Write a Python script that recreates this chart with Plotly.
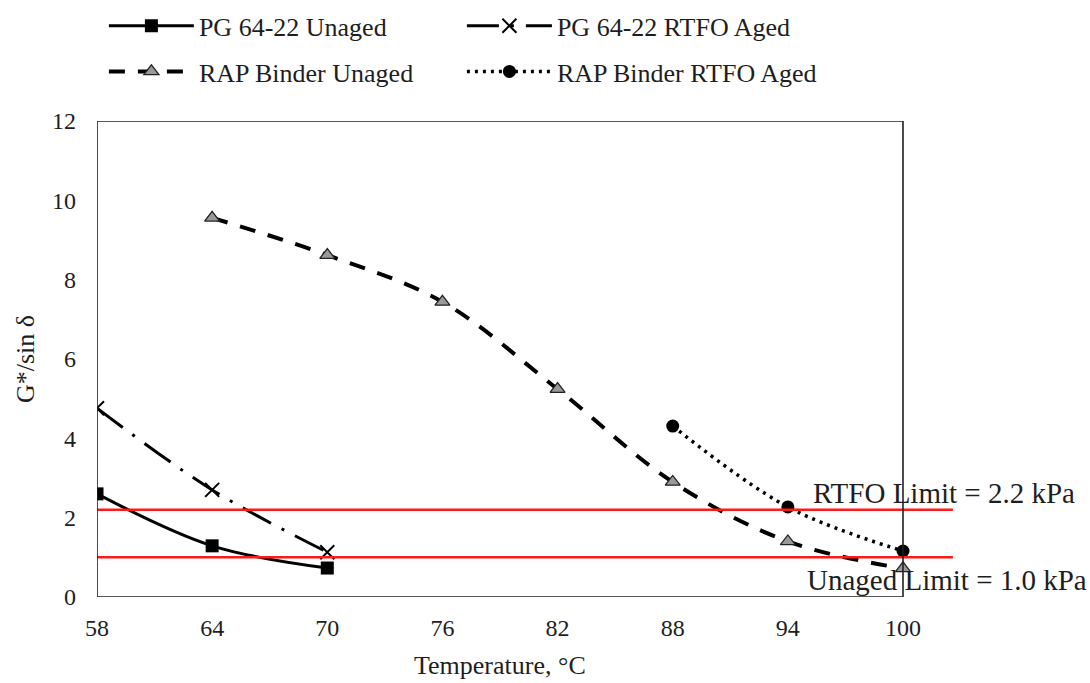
import plotly.graph_objects as go

# Temperature grid (°C)
temps_pg = [58, 64, 70]
temps_rap = [64, 70, 76, 82, 88, 94, 100]
temps_rap_rtfo = [88, 94, 100]

# G*/sin δ values (kPa)
pg_unaged = [2.60, 1.29, 0.73]
pg_rtfo = [4.76, 2.70, 1.13]
rap_unaged = [9.56, 8.62, 7.44, 5.24, 2.90, 1.40, 0.72]
rap_rtfo = [4.31, 2.27, 1.16]

# Specification limits (kPa)
rtfo_limit = 2.2
unaged_limit = 1.0

x_ticks = [58, 64, 70, 76, 82, 88, 94, 100]
y_ticks = [0, 2, 4, 6, 8, 10, 12]

FONT = "Liberation Serif"
TXT = "#1e1e1e"

fig = go.Figure()

fig.add_trace(go.Scatter(
    x=temps_pg, y=pg_unaged, name="PG 64-22 Unaged", mode="lines+markers",
    line=dict(color="black", width=3, shape="spline"),
    marker=dict(symbol="square", size=13, color="black"),
    legend="legend",
))
fig.add_trace(go.Scatter(
    x=temps_pg, y=pg_rtfo, name="PG 64-22 RTFO Aged", mode="lines+markers",
    line=dict(color="black", width=3, dash="32px,12px,3px,12px", shape="spline"),
    marker=dict(symbol="x-thin-open", size=14, color="black",
                line=dict(color="black", width=2)),
    legend="legend",
))
fig.add_trace(go.Scatter(
    x=temps_rap, y=rap_unaged, name="RAP Binder Unaged", mode="lines+markers",
    line=dict(color="black", width=4, dash="16px,13px", shape="spline"),
    marker=dict(symbol="triangle-up", size=13, color="#999999",
                line=dict(color="#222222", width=1.3)),
    legend="legend2",
))
fig.add_trace(go.Scatter(
    x=temps_rap_rtfo, y=rap_rtfo, name="RAP Binder RTFO Aged", mode="lines+markers",
    line=dict(color="black", width=3.5, dash="3px,5px", shape="spline"),
    marker=dict(symbol="circle", size=13, color="black"),
    legend="legend2",
))

# Limit lines (extend past the right edge of the frame)
for lim in (rtfo_limit, unaged_limit):
    fig.add_shape(type="line", xref="x", yref="y", x0=57.6, x1=102.6,
                  y0=lim, y1=lim, line=dict(color="#ff1a1a", width=2.5),
                  layer="above")

# Plot frame around the data range
fig.add_shape(type="rect", xref="x", yref="y", x0=58, x1=100, y0=0, y1=12,
              line=dict(color="#222222", width=1.6), layer="above")

fig.add_annotation(text=f"RTFO Limit = {rtfo_limit} kPa", xref="x", yref="y",
                   x=102.16, y=rtfo_limit, yshift=17, xanchor="center",
                   showarrow=False,
                   font=dict(family=FONT, size=29, color=TXT))
fig.add_annotation(text=f"Unaged Limit = {unaged_limit:.1f} kPa", xref="x", yref="y",
                   x=102.3, y=unaged_limit, yshift=-23, xanchor="center",
                   showarrow=False,
                   font=dict(family=FONT, size=29, color=TXT))

# Axis titles
fig.add_annotation(text="Temperature, °C", xref="x", yref="paper", x=79, y=-0.143,
                   xanchor="center", yanchor="middle", showarrow=False,
                   font=dict(family=FONT, size=26, color=TXT))
fig.add_annotation(text="G*/sin δ", xref="paper", yref="paper", x=-0.0834, y=0.5,
                   xanchor="center", yanchor="middle",
                   textangle=-90, showarrow=False,
                   font=dict(family=FONT, size=26, color=TXT))

legend_common = dict(
    orientation="h", xanchor="left", yanchor="middle",
    font=dict(family=FONT, size=26, color=TXT),
    itemwidth=85, entrywidth=258, bgcolor="rgba(0,0,0,0)",
)

fig.update_layout(
    width=1090, height=683,
    margin=dict(l=97, r=130, t=121, b=86, autoexpand=False),
    plot_bgcolor="white", paper_bgcolor="white",
    showlegend=True,
    legend=dict(x=0.008, y=1.2, **legend_common),
    legend2=dict(x=0.008, y=1.104, **legend_common),
    xaxis=dict(range=[58, 102.97], tickvals=x_ticks, showgrid=False, zeroline=False,
               showline=False, ticks="", ticklabelstandoff=14,
               tickfont=dict(family=FONT, size=24, color=TXT)),
    yaxis=dict(range=[0, 12], tickvals=y_ticks, showgrid=False, zeroline=False,
               showline=False, ticks="", ticklabelstandoff=20,
               tickfont=dict(family=FONT, size=24, color=TXT)),
)

fig.write_html("out.html")
